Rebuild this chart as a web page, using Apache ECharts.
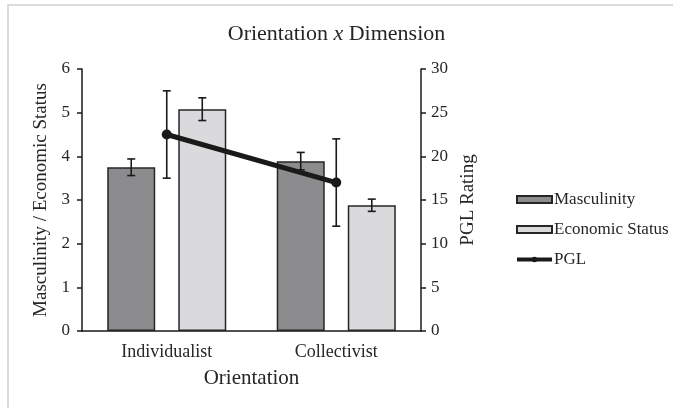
<!DOCTYPE html>
<html>
<head>
<meta charset="utf-8">
<script src="https://cdn.jsdelivr.net/npm/echarts@6/dist/echarts.min.js"></script>
<style>html,body{margin:0;padding:0;background:#fff;}#c{width:673px;height:408px;}</style>
</head>
<body>
<div id="c"></div>
<script>
var categories = ['Individualist', 'Collectivist'];
var masculinity = [3.75, 3.89];
var masculinityErr = [0.19, 0.2];
var economic = [5.08, 2.88];
var economicErr = [0.26, 0.14];
var pgl = [22.5, 17.0];
var pglErr = [5.0, 5.0];
var leftTicks = [0, 1, 2, 3, 4, 5, 6];
var rightTicks = [0, 5, 10, 15, 20, 25, 30];

var FONT = '"Liberation Serif", "DejaVu Serif", serif';
var TXT = '#262626';
var BAR_W = 48;
var GAP = 0.48;
var OFFSET = (BAR_W + BAR_W * GAP) / 2;

function errSeries(name, vals, errs, axisIdx, off) {
  return {
    type: 'custom', name: name + ' err', yAxisIndex: axisIdx, z: 10, silent: true,
    data: vals.map(function (v, i) { return [i, v - errs[i], v + errs[i]]; }),
    renderItem: function (params, api) {
      var lo = api.coord([api.value(0), api.value(1)]);
      var hi = api.coord([api.value(0), api.value(2)]);
      var x = lo[0] + off;
      var cap = 4;
      var st = { stroke: '#1a1a1a', lineWidth: 1.6 };
      return { type: 'group', children: [
        { type: 'line', shape: { x1: x, y1: lo[1], x2: x, y2: hi[1] }, style: st },
        { type: 'line', shape: { x1: x - cap, y1: lo[1], x2: x + cap, y2: lo[1] }, style: st },
        { type: 'line', shape: { x1: x - cap, y1: hi[1], x2: x + cap, y2: hi[1] }, style: st }
      ]};
    }
  };
}

var chart = echarts.init(document.getElementById('c'));
chart.setOption({
  animation: false,
  backgroundColor: '#fff',
  textStyle: { fontFamily: FONT },
  graphic: [{ type: 'rect', shape: { x: 8, y: 5, width: 720, height: 430 }, style: { fill: 'none', stroke: '#dcdcdc', lineWidth: 2 }, silent: true }],
  title: {
    text: '{a|Orientation }{b|x}{a| Dimension}',
    left: 'center', top: 18,
    textStyle: { fontWeight: 'normal', rich: {
      a: { fontFamily: FONT, fontSize: 22, fontWeight: 'normal', color: TXT },
      b: { fontFamily: FONT, fontSize: 22, fontWeight: 'normal', fontStyle: 'italic', color: TXT }
    }}
  },
  grid: { left: 82, right: 252, top: 69, bottom: 77 },
  legend: {
    orient: 'vertical', left: 510, top: 186, itemWidth: 35, itemHeight: 7, itemGap: 13,
    textStyle: { fontFamily: FONT, fontSize: 17, color: TXT, padding: [0, 0, 0, -3] },
    data: [
      { name: 'Masculinity', icon: 'rect' },
      { name: 'Economic Status', icon: 'rect' },
      { name: 'PGL', lineStyle: { width: 4, color: '#1a1a1a' }, itemStyle: { color: '#1a1a1a' } }
    ]
  },
  xAxis: {
    type: 'category', data: categories,
    name: 'Orientation', nameLocation: 'middle', nameGap: 37,
    nameTextStyle: { fontFamily: FONT, fontSize: 21, color: TXT },
    axisLine: { lineStyle: { color: '#1a1a1a', width: 1.5 } },
    axisTick: { show: false },
    axisLabel: { fontFamily: FONT, fontSize: 18, color: TXT, margin: 12 }
  },
  yAxis: [{
    type: 'value', min: 0, max: 6, interval: 1,
    name: 'Masculinity / Economic Status', nameLocation: 'middle', nameGap: 30,
    nameTextStyle: { fontFamily: FONT, fontSize: 19, color: TXT },
    axisLine: { show: true, lineStyle: { color: '#1a1a1a', width: 1.5 } },
    axisTick: { show: true, length: 5, lineStyle: { color: '#1a1a1a', width: 1.5 } },
    splitLine: { show: false },
    axisLabel: { fontFamily: FONT, fontSize: 17, color: TXT, margin: 12,
      formatter: function (v) { return leftTicks.indexOf(v) >= 0 ? String(v) : ''; } }
  }, {
    type: 'value', min: 0, max: 30, interval: 5, position: 'right',
    name: 'PGL Rating', nameLocation: 'middle', nameGap: 38,
    nameTextStyle: { fontFamily: FONT, fontSize: 19, color: TXT },
    axisLine: { show: true, lineStyle: { color: '#1a1a1a', width: 1.5 } },
    axisTick: { show: true, length: 5, lineStyle: { color: '#1a1a1a', width: 1.5 } },
    splitLine: { show: false },
    axisLabel: { fontFamily: FONT, fontSize: 17, color: TXT, margin: 10,
      formatter: function (v) { return rightTicks.indexOf(v) >= 0 ? String(v) : ''; } }
  }],
  series: [
    { type: 'bar', name: 'Masculinity', data: masculinity, barWidth: BAR_W, barGap: (GAP * 100) + '%',
      itemStyle: { color: '#8c8c8e', borderColor: '#262626', borderWidth: 1.5 } },
    { type: 'bar', name: 'Economic Status', data: economic, barWidth: BAR_W,
      itemStyle: { color: '#dadadc', borderColor: '#262626', borderWidth: 1.5 } },
    { type: 'line', name: 'PGL', data: pgl, yAxisIndex: 1, z: 12,
      symbol: 'circle', symbolSize: 10,
      lineStyle: { color: '#1a1a1a', width: 5 },
      itemStyle: { color: '#1a1a1a' } },
    errSeries('Masculinity', masculinity, masculinityErr, 0, -OFFSET),
    errSeries('Economic Status', economic, economicErr, 0, OFFSET),
    errSeries('PGL', pgl, pglErr, 1, 0)
  ]
});
</script>
</body>
</html>
